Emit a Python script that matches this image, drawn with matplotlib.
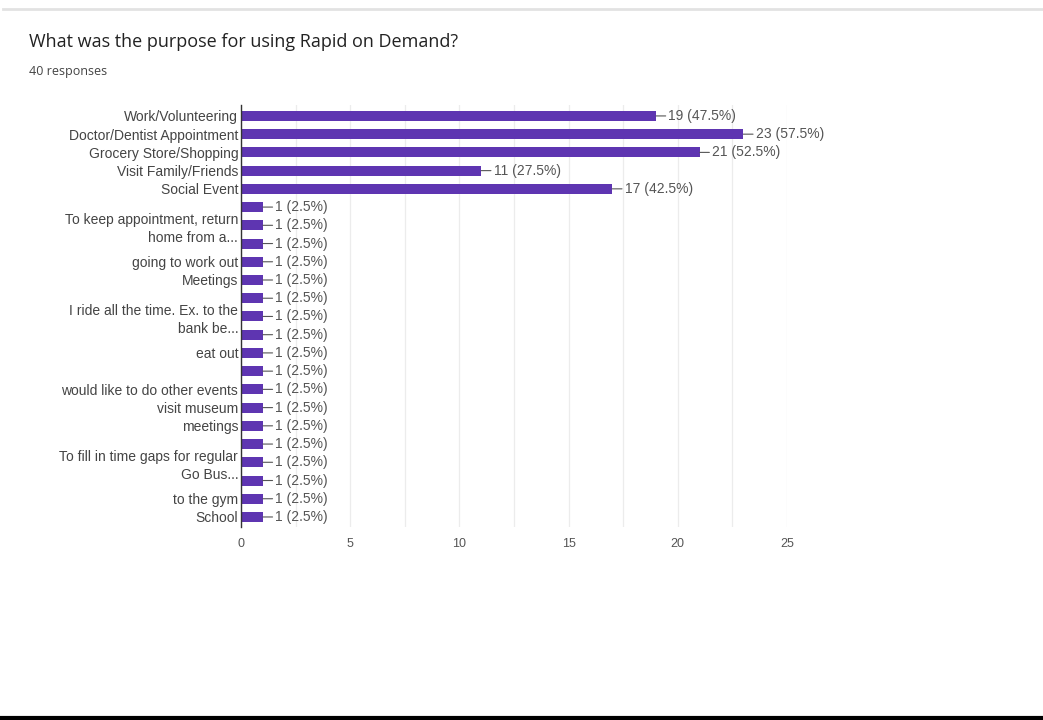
import matplotlib.pyplot as plt
from matplotlib.lines import Line2D

# survey answers, top to bottom
labels = [
    "Work/Volunteering",
    "Doctor/Dentist Appointment",
    "Grocery Store/Shopping",
    "Visit Family/Friends",
    "Social Event",
    "",
    "To keep appointment, return\nhome from a...",
    "",
    "going to work out",
    "Meetings",
    "",
    "I ride all the time. Ex. to the\nbank be...",
    "",
    "eat out",
    "",
    "would like to do other events",
    "visit museum",
    "meetings",
    "",
    "To fill in time gaps for regular\nGo Bus...",
    "",
    "to the gym",
    "School",
]
counts = [19, 23, 21, 11, 17] + [1] * 18
total = 40
xticks = [0, 5, 10, 15, 20, 25]

bar_color = "#5e35b1"
text_color = "#555555"

plt.rcParams["font.family"] = ["Liberation Sans", "DejaVu Sans"]

fig = plt.figure(figsize=(10.43, 7.2), dpi=100)
ax = fig.add_axes([241 / 1043, 1 - 527 / 720, 546 / 1043, 422 / 720])

ypos = list(range(len(labels)))
ax.barh(ypos, counts, height=0.55, color=bar_color, zorder=3)

for y, c in zip(ypos, counts):
    pct = c / total * 100
    ax.annotate("%d (%.1f%%)" % (c, pct), xy=(c, y), xytext=(9, 0),
                textcoords="offset points", va="center", ha="left",
                fontsize=10, color=text_color,
                arrowprops=dict(arrowstyle="-", color="#555555", lw=0.8,
                                shrinkA=0, shrinkB=0))

ax.set_ylim(len(labels) - 0.45, -0.6)
ax.set_xlim(0, 25)
ax.set_yticks(ypos)
ax.set_yticklabels(labels, fontsize=10, color="#444444", linespacing=1.35)
ax.tick_params(axis="y", length=0, pad=2)
ax.set_xticks(xticks)
ax.set_xticks([2.5, 7.5, 12.5, 17.5, 22.5], minor=True)
ax.tick_params(axis="x", which="both", length=0, pad=8, labelsize=9,
               labelcolor="#555555")
ax.grid(axis="x", which="both", color="#ececec", lw=0.9, zorder=0)

for side in ["top", "right", "bottom"]:
    ax.spines[side].set_visible(False)
ax.spines["left"].set_color("#333333")
ax.spines["left"].set_linewidth(1.0)
ax.spines["left"].set_zorder(4)

fig.text(29 / 1043, 1 - 42 / 720, "What was the purpose for using Rapid on Demand?",
         fontsize=13, color="#222222", va="center", family=["Open Sans", "DejaVu Sans"])
fig.text(29 / 1043, 1 - 71 / 720, "40 responses", fontsize=9, color="#444444",
         va="center", family=["Open Sans", "DejaVu Sans"])

# card edge at top and black strip at the bottom
fig.add_artist(Line2D([3 / 1043, 1], [1 - 9 / 720, 1 - 9 / 720],
                      transform=fig.transFigure, color="#e2e2e2", lw=2))
fig.add_artist(Line2D([0, 1], [1 - 718 / 720, 1 - 718 / 720],
                      transform=fig.transFigure, color="black", lw=3))

fig.savefig("out.png", dpi=100)
